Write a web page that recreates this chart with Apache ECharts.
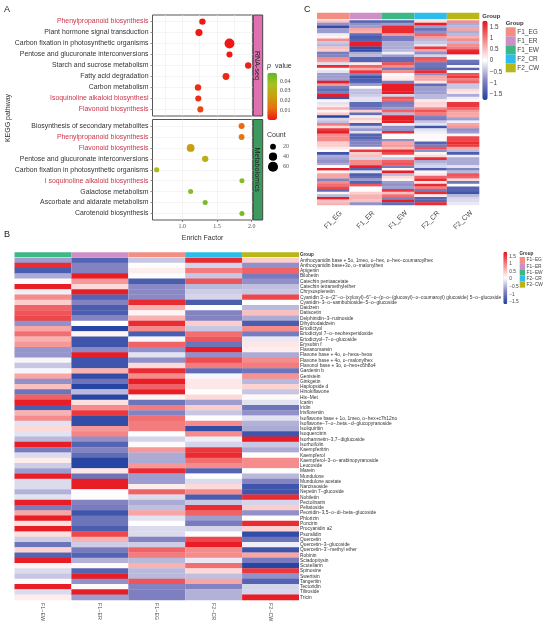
<!DOCTYPE html>
<html>
<head>
<meta charset="utf-8">
<title>KEGG enrichment and flavonoid heatmaps</title>
<script src="https://cdn.jsdelivr.net/npm/echarts@6/dist/echarts.min.js"></script>
<style>
html, body { margin: 0; padding: 0; background: #fff; }
#main { width: 550px; height: 627px; }
</style>
</head>
<body>
<div id="main"></div>
<script>
// Panel A, RNA-seq facet
let rnaPathways = ['Phenylpropanoid biosynthesis', 'Plant hormone signal transduction', 'Carbon fixation in photosynthetic organisms', 'Pentose and glucuronate interconversions', 'Starch and sucrose metabolism', 'Fatty acid degradation', 'Carbon metabolism', 'Isoquinoline alkaloid biosynthesi', 'Flavonoid biosynthesis'];
let rnaEnrich = [1.29, 1.24, 1.68, 1.68, 1.95, 1.63, 1.226, 1.23, 1.26];
let rnaCount = [24, 30, 58, 22, 24, 28, 24, 22, 22];
let rnaP = [0.0008, 0.001, 0.0008, 0.001, 0.002, 0.003, 0.004, 0.004, 0.007];
let rnaHighlight = [0, 7, 8];

// Panel A, Metabolomics facet
let metPathways = ['Biosynthesis of secondary metabolites', 'Phenylpropanoid biosynthesis', 'Flavonoid biosynthesis', 'Pentose and glucuronate interconversions', 'Carbon fixation in photosynthetic organisms', 'I soquinoline alkaloid biosynthesis', 'Galactose metabolism', 'Ascorbate and aldarate metabolism', 'Carotenoid biosynthesis'];
let metEnrich = [1.855, 1.855, 1.12, 1.33, 0.63, 1.86, 1.12, 1.33, 1.86];
let metCount = [22, 20, 36, 24, 16, 15, 15, 15, 15];
let metP = [0.012, 0.014, 0.024, 0.03, 0.034, 0.042, 0.042, 0.044, 0.044];
let metHighlight = [1, 2, 5];

let countSizes = ['20', '40', '60'];
let pTicks = [0.01, 0.02, 0.03, 0.04];
let enrichLabels = [1, 1.5, 2];
let enrichGrid = [0.75, 1, 1.25, 1.5, 1.75, 2];
let heatTicks = [-1.5, -1, -0.5, 0, 0.5, 1, 1.5];

// Panel C, row z-scores per sample
let cGroups = ['F1_EG', 'F1_ER', 'F1_EW', 'F2_CR', 'F2_CW'];
let cEG = [0.5, -0.8, -1.6, -0.7, -0.7, -0.1, 0.1, 0.9, -0.4, -0.5, 0.5, 0.4, -1, -0.9, 0.9, 0.8, -0.2, 1.6, 0.1, -0.2, -0.7, -0.7, -0.7, 1.7, 0.8, -1, -1.2, -1, 1.7, -1.5, -0.05, -0.2, 0.2, 0.6, 0.1, 0.4, -1.7, -0.3, -0.45, 1, 0.3, 1.5, 1.7, 0.9, 0.9, 0.9, 0.4, 0.4, 0.2, 0, -1.5, -0.6, -0.7, -0.8, -0.6, 0, 1.7, 0.1, 0.7, 0.7, -0.9, 0.9, 1.1, 1.4, -1.2, 0.1, -0.5, 1.7, 0.5, 0.6];
let cER = [-1.3, -0.8, -0.7, 0.7, 0.6, -1.2, -1.4, -1.3, 1.7, 1.7, -1.6, -1.6, -0.6, -0.5, -1.3, -1.3, 0.2, 1.2, 0.7, 1.5, -0.9, -1.5, -1.4, -1.3, -0.7, 0, -0.45, -0.45, -0.35, -0.2, -0.2, -1.2, -1.2, -1, 0.4, -1.2, -0.1, 0.4, 0.2, -1.4, -0.4, -0.7, -0.2, -1.3, -1.3, -1, -0.9, -0.9, 0.1, 1.5, 0.4, 0.5, -0.3, 0.9, 0.9, 1.7, -1.3, -0.2, -1.4, -1.2, -0.7, -1.3, 1.3, 0, 0, 0.4, 0.6, 0.6, 0.5, -0.8];
let cEW = [-1.3, -0.7, 1.6, 1.6, 1.6, 0.8, -1, -1, -0.6, -0.6, -0.6, -0.5, -0.1, -0.7, -1.2, -1.2, 1.3, 0.9, -1, 0.9, 0.05, 0.15, 0.2, -1, 1.7, 1.7, 1.7, 1.7, -0.3, 1.3, 1.2, -1, -0.9, -0.7, 1.2, -0.5, 1.7, 1.7, 1.7, 0.1, -0.8, -0.8, 1.6, 0, 0.05, -0.8, 0.7, 0.8, 0.5, 1.6, 1.4, 0, -0.4, 1.2, 1.3, -1, 0, 1.7, -0.5, 0.3, 0.1, -0.7, -0.8, -0.7, 1.5, 0.5, 1.1, -0.9, 1.7, -1.2];
let cCR = [0.3, 1.7, -0.7, -1.1, -0.8, 1.2, 0.8, -0.5, -0.4, -0.2, 1.5, 0.7, -0.8, -0.3, 1.3, 1.2, -1.1, -1.1, -1.2, 1.6, -0.8, 0.7, 0.7, 0.2, -1.2, -0.7, -0.7, -0.7, -0.5, -0.5, 0.2, 0.35, 0.3, 0.9, 1.3, 1, -0.9, -1, -0.4, -0.2, -1.5, -0.2, -0.1, 0.05, 0.05, 0.05, -1.3, -1, 1.3, -0.8, 0.1, 0.3, 1.6, -0.6, -0.4, -0.3, -1.4, 0.1, 0.2, 1.2, 1.6, 0.2, 1.6, 1, -1, 1.6, 0.2, -1.3, -1.3, 1.6];
let cCW = [0.9, -0.6, -0.5, 0.7, -0.6, -0.5, 0.6, 0.9, -0.5, 0.9, 1, 1.6, 1.7, 0, 0, -1.1, -1.2, 0.1, -1.3, 0, 1.3, 1.5, 1, 1.2, -0.4, -0.4, 0.3, 0.2, -0.6, -0.1, 0.1, 1.5, 1.5, 1.2, 0.8, 0.7, 0.7, -0.7, -0.1, 0.7, 0.8, -0.8, -0.7, 0.1, 1.4, 1.4, 1.6, 1.5, 0.7, -0.5, -1.4, -0.1, -0.6, -0.6, -0.6, -0.2, -0.9, -0.5, 1.3, 1.2, 0.3, -1.1, 0, -1.3, -1.3, -1.5, -0.5, -0.3, -0.25, -0.15];

// Panel B, compound names and row z-scores per sample
let bGroups = ['F1−EW', 'F1−ER', 'F1−EG', 'F2−CR', 'F2−CW'];
let bLegend = ['F1−EG', 'F1−ER', 'F1−EW', 'F2−CR', 'F2−CW'];
let bColors = ['#3DB783', '#CE8FC6', '#F28E82', '#2DBDEA', '#B9B715'];
let cColors = ['#F28E82', '#CE8FC6', '#3DB783', '#2DBDEA', '#B9B715'];
let compounds = [
    'Anthocyanidin base + 5o, 1meo, o−hex, o−hex−coumaroylhex',
    'Anthocyanidin base+3o, o−malonylhex',
    'Apigenin',
    'Bilobetin',
    'Catechin pentaacetate',
    'Catechin tetramethylether',
    'Chrysosplenetin',
    'Cyanidin 3−o−(2\'\'−o−(xylosyl)−6\'\'−o−(p−o−(glucosyl)−o−coumaroyl) glucoside) 5−o−glucoside',
    'Cyanidin−3−o−sambubioside−5−o−glucoside',
    'Daidzein',
    'Datiscetin',
    'Delphinidin−3−rutinoside',
    'Dihydrodaidzein',
    'Eriodictyol',
    'Eriodictyol 7−o−neohesperidoside',
    'Eriodictyol−7−o−glucoside',
    'Erysubin f',
    'Flavanomarein',
    'Flavone base + 4o, o−hexa−hexa',
    'Flavone base + 4o, o−malonylhex',
    'Flavonol base + 3o, o−hex+c6h8o4',
    'Gardenin b',
    'Genistein',
    'Ginkgetin',
    'Haplopside d',
    'Hinokiflavone',
    'His−Met',
    'Icariin',
    'Iridin',
    'Irisflorentin',
    'Isoflavone base + 1o, 1meo, o−hex+c7h12no',
    'Isoflavone−7−o−.beta.−d−glucopyranoside',
    'Isoliquiritin',
    'Isoquercitrin',
    'Isorhamnetin−3,7−diglucoside',
    'Isorhoifolin',
    'Kaempferitrin',
    'Kaempferol',
    'Kaempferol−3−o−arabinopyranoside',
    'Leucoside',
    'Marein',
    'Mundulone',
    'Mundulone acetate',
    'Narcissoside',
    'Nepetin 7−glucoside',
    'Nobiletin',
    'Pectolinarin',
    'Peltatoside',
    'Peonidin−3,5−o−di−beta−glucoside',
    'Phlorizin',
    'Poncirin',
    'Procyanidin a2',
    'Psoralidin',
    'Quercetin',
    'Quercetin−3−glucoside',
    'Quercetin−3\'−methyl ether',
    'Robinin',
    'Sciadopitysin',
    'Scutellarin',
    'Spinosine',
    'Swertisin',
    'Tangeritin',
    'Tectoridin',
    'Tiliroside',
    'Tricin'
];
let bEW = [-0.7, 1.6, -1.4, -0.6, 0.05, 1.7, -0.1, 0.9, 0.4, 1.2, 1.3, 1.4, -0.8, 0.7, 1.1, 0.6, 0.8, -0.75, -0.75, -0.05, -0.4, -0.05, 0.7, -0.8, 0.5, -1.1, 1.2, 1.7, -1.4, 0.6, 0.9, -0.2, 0.3, -0.2, -0.5, 1.7, -1, -0.25, 0.15, -0.35, -0.7, 1.7, -0.25, -0.25, -0.55, -0.2, 1.7, -1, 0.7, 1.7, 0.25, 1.7, 0.25, -0.35, -1.1, 0.35, -1.3, 1.7, 0.1, -0.25, -0.4, 0.05, 1.7, -0.25, 0.15];
let bER = [-1.3, -0.9, -0.9, 1.7, 0.8, 0.3, 1.7, -1.3, -0.9, -1.4, -1.4, -0.9, 0, -1.7, 0.1, -1.5, -1.5, -0.85, 1.7, -1.5, -1.5, 0.6, -1.6, -1.1, -1.7, -0.5, -1.7, 0.25, 0.9, 1.5, -1.6, -1.6, 0.8, 0.95, -0.8, -1.3, -0.9, -1.2, -1.7, -1.7, 0.2, -1.1, 1.7, 1.7, 0, 0, -0.9, -1, -1.5, -1.1, -1.1, -1.4, 1.4, 0.6, -0.35, -1, -1.3, -0.55, 0.05, -1.3, 1.7, -0.8, 0.05, 1.7, -0.7];
let bEG = [-0.4, 0, 0.15, 0, -1.4, -0.85, -0.85, -0.85, 1.6, 0.6, 0.1, 0.6, 1.6, 0.9, -1.4, -0.05, 1.2, -0.8, -0.2, -0.8, 0.3, 1.6, 0.9, 1.7, 1.2, 1.7, 0.1, -1.1, 1, -0.9, 1.1, 1, 1, 0, -0.3, 0.05, 0.8, -0.6, -0.6, 0.8, 1.6, -0.7, -0.7, 0.15, 1.2, -0.25, -0.6, -0.45, 0.7, -0.2, 0, -0.25, -0.25, -0.9, -0.35, 1.2, 1, -0.5, 0.6, -0.5, -0.5, 1.3, -0.9, -0.95, -0.95];
let bCR = [1.6, -0.3, 1, -0.4, 1.3, -0.5, -0.35, -0.3, -1.4, 0, -0.9, -0.9, 0.4, -0.4, 1.1, 1.3, -1.1, 1.7, -0.8, 1.35, 1, -1.2, -0.05, 0.2, 0.2, 0.02, 0.3, -0.7, 0.4, -0.4, 0.02, 0.9, -1.6, 0.9, -0.1, -0.3, 1.5, 1.6, 1.1, 0.9, -1.3, 0, -0.25, 0.3, 0.9, -1.4, -0.4, 1.6, 1.2, -0.7, -1, -0.3, 0, 1.4, 1.7, 0.9, 0.9, -0.15, 1.1, 0.3, -0.45, 0.7, -0.9, -0.55, -0.55];
let bCW = [0.4, -0.8, 1.2, -1, -0.8, -0.45, -0.4, 1.4, 0, -0.5, 0.5, -0.6, -1.4, 0.9, -1, -0.15, 0.2, 0.15, -0.6, 0.9, 1, -1.1, 0.85, -0.5, 0.35, -0.4, 0.05, -0.2, -1.1, -0.8, -0.2, -0.55, -0.6, -1.5, 1.7, -0.4, -0.6, 0, 0.9, 0.9, 0, -0.5, -0.9, -1.5, -1.5, 1.6, -0.3, 0.4, -0.8, 0, 1.6, 0.35, -1.6, -1.1, -0.1, -1.5, 0.7, -1, -1.7, 1.5, -0.8, -1.3, -0.3, -0.3, 1.7];

let sansFont = 'Arial, "Liberation Sans", sans-serif';
let serifFont = '"Times New Roman", "Liberation Serif", serif';
let labelRed = '#C8354A';
let labelDark = '#333';
let heatPalette = ['#1F40A0', '#8685C3', '#ffffff', '#F58A8A', '#E60F18'];
let pPalette = ['#EE1515', '#E87010', '#C8A010', '#A8C020', '#5CB82C'];

// one cell per [sample, row]
function heatData(columns) {
    let data = [];
    columns.forEach(function(col, x) {
        col.forEach(function(v, y) {
            data.push([x, y, v]);
        });
    });
    return data;
}

function dotData(enrich, p, count) {
    return enrich.map(function(e, i) {
        return [e, i + 1, p[i], count[i]];
    });
}

function dotSize(value) {
    return 1.3 * Math.sqrt(value[3]);
}

function minusText(v) {
    return String(v).replace('-', '−');
}

// the heatmap series rounds rows to whole pixels, these rows are under 3px high
function renderCell(params, api) {
    let center = api.coord([api.value(0), api.value(1)]);
    let size = api.size([1, 1]);
    return {
        type: 'rect',
        shape: {
            x: center[0] - size[0] / 2,
            y: center[1] - size[1] / 2 - 0.15,
            width: size[0],
            height: size[1] + 0.3
        },
        style: { fill: api.visual('color') }
    };
}

let hidden = { show: false };

function plainAxis(extra) {
    return Object.assign({
        axisLine: hidden, axisTick: hidden, splitLine: hidden, axisLabel: hidden
    }, extra);
}

function pathwayAxis(gridIndex, names, highlight) {
    let rows = names.map(function(n, i) { return i + 1; });
    return {
        type: 'value', gridIndex: gridIndex, inverse: true, min: 0.4, max: 9.6,
        axisLine: hidden,
        axisTick: { length: 2, customValues: rows, lineStyle: { color: '#444', width: 0.6 } },
        splitLine: { lineStyle: { color: '#ececec', width: 0.6 } },
        axisLabel: {
            customValues: rows, margin: 4, fontSize: 6.9, fontFamily: sansFont,
            formatter: function(v) { return names[v - 1]; },
            color: function(v) {
                return highlight.indexOf(Number(v) - 1) >= 0 ? labelRed : labelDark;
            }
        }
    };
}

function enrichAxis(gridIndex, withLabels) {
    return {
        type: 'value', gridIndex: gridIndex, min: 0.57, max: 2.015,
        name: withLabels ? 'Enrich Factor' : '',
        nameLocation: 'middle', nameGap: 15,
        nameTextStyle: { fontSize: 7, fontFamily: sansFont, color: labelDark },
        axisLine: hidden,
        axisTick: withLabels
            ? { length: 2, customValues: enrichLabels, lineStyle: { color: '#444', width: 0.6 } }
            : { show: false, customValues: enrichGrid },
        splitLine: { lineStyle: { color: '#ececec', width: 0.6 } },
        axisLabel: {
            show: withLabels, customValues: enrichLabels, margin: 3, fontSize: 6,
            fontFamily: serifFont, color: '#555',
            formatter: function(v) { return v.toFixed(1); }
        }
    };
}

function groupBars(names, colors, xIndex) {
    return names.map(function(name, i) {
        return {
            type: 'bar', name: name, stack: 'group' + xIndex,
            xAxisIndex: xIndex, yAxisIndex: xIndex, barWidth: '100%',
            itemStyle: { color: colors[i] },
            silent: true, data: [1]
        };
    });
}

function heatSeries(columns, index) {
    return {
        type: 'custom', xAxisIndex: index, yAxisIndex: index,
        renderItem: renderCell, encode: { x: 0, y: 1 },
        silent: true, data: heatData(columns)
    };
}

function stripName(name, gridIndex) {
    return plainAxis({
        type: 'value', gridIndex: gridIndex, min: 0, max: 1,
        name: name, nameLocation: 'middle', nameRotate: -90, nameGap: -7,
        nameTextStyle: { fontSize: 7.2, fontFamily: sansFont, color: '#222' }
    });
}

function colorbarAxis(gridIndex, min, max, ticks, fontSize, font, formatter, margin) {
    return {
        type: 'value', gridIndex: gridIndex, position: 'right', min: min, max: max, z: 10,
        axisLine: hidden, splitLine: hidden,
        axisTick: { show: false, customValues: ticks },
        axisLabel: {
            customValues: ticks, fontSize: fontSize, fontFamily: font, margin: margin,
            color: '#444', formatter: formatter
        }
    };
}

let pBarAxis = colorbarAxis(4, 0.0006, 0.0484, pTicks, 6, serifFont, function(v) { return v.toFixed(2); }, 3);
pBarAxis.axisTick = { show: true, inside: true, length: 2, customValues: pTicks, lineStyle: { color: '#fff', width: 0.6 } };

let myChart = echarts.init(document.getElementById('main'), null, { renderer: 'canvas' });

let options = {
    animation: false,
    backgroundColor: '#fff',
    textStyle: { fontFamily: sansFont },
    grid: [
        { left: 152.5, top: 15, width: 100.2, height: 101, show: true, borderColor: '#555', borderWidth: 1 },
        { left: 152.5, top: 119.5, width: 100.2, height: 100.5, show: true, borderColor: '#555', borderWidth: 1 },
        { left: 253.3, top: 15, width: 9.4, height: 101, show: true, backgroundColor: '#E070B0', borderColor: '#444', borderWidth: 1 },
        { left: 253.3, top: 119.5, width: 9.4, height: 100.5, show: true, backgroundColor: '#3C9A5F', borderColor: '#444', borderWidth: 1 },
        { left: 267.3, top: 72.7, width: 9.7, height: 47.3 },
        { left: 268, top: 141.7, width: 10, height: 30 },
        { left: 317, top: 12.7, width: 162.3, height: 6.6 },
        { left: 317, top: 20.3, width: 162.3, height: 184.7 },
        { left: 482.3, top: 20.7, width: 5.4, height: 79.3 },
        { left: 14.5, top: 252.3, width: 284.5, height: 4.7 },
        { left: 14.5, top: 257.7, width: 284.5, height: 342.3 },
        { left: 503.3, top: 251.7, width: 4, height: 52.6 }
    ],
    xAxis: [
        enrichAxis(0, false),
        enrichAxis(1, true),
        plainAxis({ type: 'value', gridIndex: 2, min: 0, max: 1 }),
        plainAxis({ type: 'value', gridIndex: 3, min: 0, max: 1 }),
        plainAxis({ type: 'value', gridIndex: 4, min: 0, max: 1 }),
        plainAxis({ type: 'value', gridIndex: 5, min: 0, max: 1 }),
        plainAxis({ type: 'value', gridIndex: 6, min: 0, max: 5 }),
        {
            type: 'category', gridIndex: 7, data: cGroups,
            axisLine: hidden, axisTick: hidden, splitLine: hidden,
            axisLabel: {
                rotate: 45, margin: 15, fontSize: 7, fontFamily: sansFont, color: '#444',
                align: 'center', verticalAlign: 'middle', interval: 0
            }
        },
        plainAxis({ type: 'value', gridIndex: 8, min: 0, max: 1 }),
        plainAxis({ type: 'value', gridIndex: 9, min: 0, max: 5 }),
        {
            type: 'category', gridIndex: 10, data: bGroups,
            axisLine: hidden, axisTick: hidden, splitLine: hidden,
            axisLabel: { rotate: -90, margin: 3, fontSize: 5.4, fontFamily: sansFont, color: '#555', interval: 0 }
        },
        plainAxis({ type: 'value', gridIndex: 11, min: 0, max: 1 })
    ],
    yAxis: [
        pathwayAxis(0, rnaPathways, rnaHighlight),
        pathwayAxis(1, metPathways, metHighlight),
        stripName('RNA-seq', 2),
        stripName('Metabolomics', 3),
        pBarAxis,
        {
            type: 'category', gridIndex: 5, inverse: true, position: 'right', data: countSizes,
            axisLine: hidden, axisTick: hidden, splitLine: hidden,
            axisLabel: { margin: 5, fontSize: 6, fontFamily: serifFont, color: '#555' }
        },
        {
            type: 'category', gridIndex: 6, position: 'right', data: ['Group'],
            axisLine: hidden, axisTick: hidden, splitLine: hidden,
            axisLabel: { margin: 3, fontSize: 6, fontWeight: 'bold', fontFamily: sansFont, color: '#333' }
        },
        plainAxis({ type: 'category', gridIndex: 7, inverse: true, data: cEG.map(function(v, i) { return i; }) }),
        colorbarAxis(8, -1.77, 1.8, heatTicks, 6.4, sansFont, minusText, 2),
        {
            type: 'category', gridIndex: 9, position: 'right', data: ['Group'],
            axisLine: hidden, axisTick: hidden, splitLine: hidden,
            axisLabel: { margin: 1, fontSize: 4.6, fontWeight: 'bold', fontFamily: sansFont, color: '#333' }
        },
        {
            type: 'category', gridIndex: 10, position: 'right', inverse: true, data: compounds,
            axisLine: hidden, axisTick: hidden, splitLine: hidden,
            axisLabel: { margin: 1, fontSize: 4.85, fontFamily: sansFont, color: '#333', interval: 0 }
        },
        colorbarAxis(11, -1.65, 1.8, heatTicks, 4.8, sansFont, minusText, 2)
    ],
    visualMap: [
        {
            type: 'continuous', seriesIndex: [0, 1], dimension: 2, min: 0.0006, max: 0.0484,
            left: 267.3, top: 72.7, itemWidth: 9.7, itemHeight: 47.3, padding: 0,
            calculable: false, hoverLink: false, inRange: { color: pPalette }
        },
        {
            type: 'continuous', seriesIndex: 3, dimension: 2, min: -1.77, max: 1.8,
            left: 482.3, top: 20.7, itemWidth: 5.4, itemHeight: 79.3, padding: 0,
            calculable: false, hoverLink: false, inRange: { color: heatPalette }
        },
        {
            type: 'continuous', seriesIndex: 4, dimension: 2, min: -1.77, max: 1.8,
            left: 503.3, top: 251.7, itemWidth: 4, itemHeight: 52.6, padding: 0,
            calculable: false, hoverLink: false, inRange: { color: heatPalette }
        }
    ],
    legend: [
        {
            data: cGroups, orient: 'vertical', left: 505.7, top: 27.3, padding: 0,
            itemWidth: 10, itemHeight: 9, itemGap: 0, icon: 'rect', selectedMode: false,
            textStyle: { fontSize: 6.5, fontFamily: sansFont, color: '#444', padding: [0, 0, 0, -3.5] }
        },
        {
            data: bLegend, orient: 'vertical', left: 519.7, top: 257, padding: 0,
            itemWidth: 5.3, itemHeight: 6.13, itemGap: 0, icon: 'rect', selectedMode: false,
            textStyle: { fontSize: 4.8, fontFamily: sansFont, color: '#444', padding: [0, 0, 0, -3.5] }
        }
    ],
    series: [
        {
            type: 'scatter', xAxisIndex: 0, yAxisIndex: 0, symbolSize: dotSize,
            itemStyle: { opacity: 1 },
            silent: true, data: dotData(rnaEnrich, rnaP, rnaCount)
        },
        {
            type: 'scatter', xAxisIndex: 1, yAxisIndex: 1, symbolSize: dotSize,
            itemStyle: { opacity: 1 },
            silent: true, data: dotData(metEnrich, metP, metCount)
        },
        {
            type: 'scatter', xAxisIndex: 5, yAxisIndex: 5, silent: true,
            itemStyle: { color: '#000', opacity: 1 },
            symbolSize: function(value) { return 1.3 * Math.sqrt(Number(countSizes[value[1]])); },
            data: countSizes.map(function(c, i) { return [0.5, i]; })
        },
        heatSeries([cEG, cER, cEW, cCR, cCW], 7),
        heatSeries([bEW, bER, bEG, bCR, bCW], 10)
    ].concat(groupBars(cGroups, cColors, 6))
     .concat(groupBars(bGroups, bColors, 9)),
    graphic: [
        { type: 'text', left: 4, top: 5, style: { text: 'A', fontSize: 9, fontFamily: sansFont, fill: '#222' } },
        { type: 'text', left: 4, top: 230, style: { text: 'B', fontSize: 9, fontFamily: sansFont, fill: '#222' } },
        { type: 'text', left: 304, top: 5, style: { text: 'C', fontSize: 9, fontFamily: sansFont, fill: '#222' } },
        {
            type: 'text', x: 8, y: 118, rotation: Math.PI / 2,
            style: { text: 'KEGG pathway', fontSize: 7, fontFamily: sansFont, fill: '#333', align: 'center', verticalAlign: 'middle' }
        },
        {
            type: 'text', left: 267, top: 62.5,
            style: { text: 'p', fontSize: 7, fontStyle: 'italic', fontFamily: sansFont, fill: '#333' }
        },
        {
            type: 'text', left: 275, top: 62.5,
            style: { text: 'value', fontSize: 7, fontFamily: sansFont, fill: '#333' }
        },
        {
            type: 'text', left: 267, top: 132,
            style: { text: 'Count', fontSize: 7, fontFamily: sansFont, fill: '#333' }
        },
        {
            type: 'text', left: 505.7, top: 20,
            style: { text: 'Group', fontSize: 6, fontWeight: 'bold', fontFamily: sansFont, fill: '#333' }
        },
        {
            type: 'text', left: 519.5, top: 251,
            style: { text: 'Group', fontSize: 4.6, fontWeight: 'bold', fontFamily: sansFont, fill: '#333' }
        }
    ]
};

myChart.setOption(options);
</script>
</body>
</html>
